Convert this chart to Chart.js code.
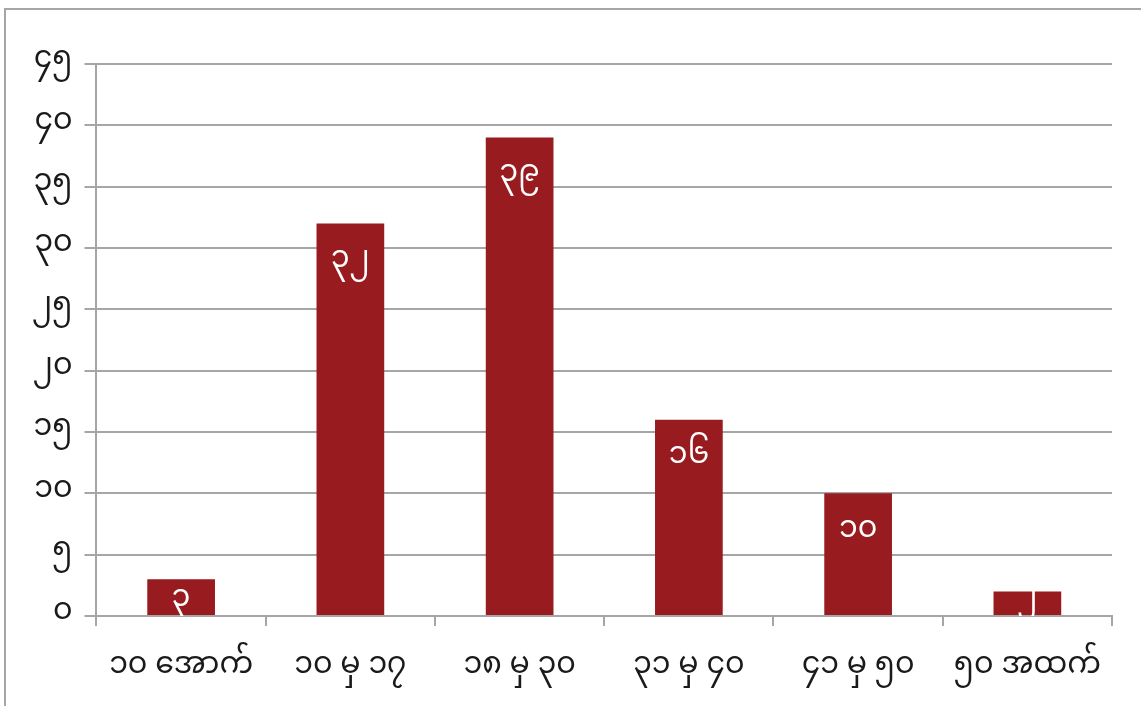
<!DOCTYPE html>
<html>
<head>
<meta charset="utf-8">
<script src="https://cdn.jsdelivr.net/npm/chart.js@4"></script>
<style>
  html, body { margin: 0; padding: 0; background: #fff; overflow: hidden; }
  #wrap { position: relative; width: 1141px; height: 706px; overflow: hidden; }
  #frame { position: absolute; left: 4px; top: 8px; width: 1200px; height: 800px;
           border-left: 2px solid #a6a6a6; border-top: 2px solid #a6a6a6; }
  canvas { position: absolute; left: 0; top: 0; }
</style>
</head>
<body>
<div id="wrap">
  <div id="frame"></div>
  <canvas id="chart" width="1141" height="718"></canvas>
</div>
<script>
// အသက်အုပ်စု
const categories = ['၁၀ အောက်', '၁၀ မှ ၁၇', '၁၈ မှ ၃၀', '၃၁ မှ ၄၀', '၄၁ မှ ၅၀', '၅၀ အထက်'];
const values = [3, 32, 39, 16, 10, 2];
const myDigits = ['၀','၁','၂','၃','၄','၅','၆','၇','၈','၉'];

const toMy = (n) => String(n).split('').map(d => myDigits[+d] ?? d).join('');

const fontFamily = "'Noto Sans Myanmar', 'Padauk', 'Myanmar Text', 'DejaVu Sans', sans-serif";

// ဘားပေါ်က တန်ဖိုးများ
const barLabels = {
  id: 'barLabels',
  afterDatasetsDraw(chart) {
    const c = chart.ctx;
    const area = chart.chartArea;
    const meta = chart.getDatasetMeta(0);
    c.save();
    c.beginPath();
    c.rect(area.left, area.top, area.right - area.left, area.bottom - area.top);
    c.clip();
    c.fillStyle = '#ffffff';
    c.font = '30px ' + fontFamily;
    c.textAlign = 'center';
    c.textBaseline = 'middle';
    meta.data.forEach((bar, i) => {
      const y = Math.min(bar.y + 40, bar.base - 12);
      c.fillText(toMy(values[i]), bar.x, y);
    });
    c.restore();
  }
};

const ctx = document.getElementById('chart');

new Chart(ctx, {
  type: 'bar',
  data: {
    labels: categories,
    datasets: [{
      data: values,
      backgroundColor: '#981b1f',
      categoryPercentage: 1,
      barPercentage: 0.4
    }]
  },
  options: {
    responsive: false,
    animation: false,
    layout: { padding: { left: 20, right: 29, top: 64, bottom: 4 } },
    plugins: { legend: { display: false }, tooltip: { enabled: false } },
    scales: {
      x: {
        grid: {
          offset: true,
          drawOnChartArea: false,
          color: '#a6a6a6',
          lineWidth: 2,
          tickLength: 10
        },
        border: { color: '#a6a6a6', width: 2 },
        ticks: {
          color: '#1a1a1a',
          font: { size: 30, family: fontFamily },
          padding: 26
        }
      },
      y: {
        min: 0,
        max: 45,
        grid: {
          color: '#a6a6a6',
          lineWidth: 2,
          tickLength: 12
        },
        border: { color: '#a6a6a6', width: 2 },
        ticks: {
          stepSize: 5,
          color: '#1a1a1a',
          font: { size: 30, family: fontFamily },
          padding: 12,
          callback: (v) => toMy(v)
        }
      }
    }
  },
  plugins: [barLabels]
});
</script>
</body>
</html>
